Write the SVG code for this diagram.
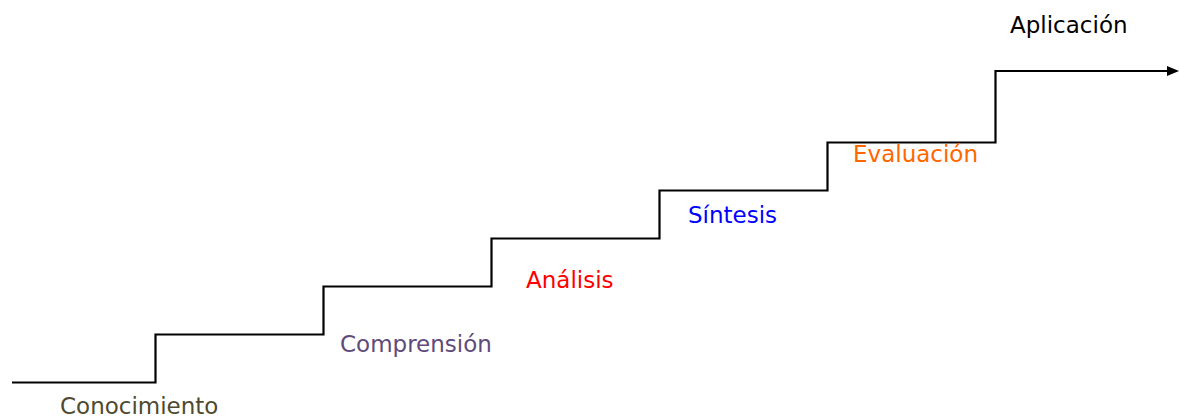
<svg xmlns="http://www.w3.org/2000/svg" width="1179" height="418" viewBox="0 0 1179 418">
<style>
text{font-family:"DejaVu Sans",Verdana,sans-serif;font-size:23px}
.ln{fill:none;stroke:#000;stroke-width:2.2}
</style>
<defs>
<marker id="ah" markerWidth="12" markerHeight="12" refX="10" refY="6" orient="auto" markerUnits="userSpaceOnUse"><path d="M0,1 L12,6 L0,11 Z" fill="#000"/></marker>
</defs>
<rect width="1179" height="418" fill="#fff"/>
<g id="connectors">
<path class="ln" d="M12,382.5 H155.5 V334.5 H323.5 V286.5 H491.5 V238.5 H659.5 V190.5 H827.5 V142.5 H995.5 V71 H1177" marker-end="url(#ah)"/>
</g>
<g id="conocimiento"><text x="60" y="414" fill="#4f4a2e">Conocimiento</text></g>
<g id="comprension"><text x="340" y="352" fill="#604a7b">Comprensión</text></g>
<g id="analisis"><text x="526" y="288" fill="#ff0000">Análisis</text></g>
<g id="sintesis"><text x="688" y="223" fill="#0000ff">Síntesis</text></g>
<g id="evaluacion"><text x="853" y="162" fill="#ff6600">Evaluación</text></g>
<g id="aplicacion"><text x="1010" y="33" fill="#000">Aplicación</text></g>
</svg>
